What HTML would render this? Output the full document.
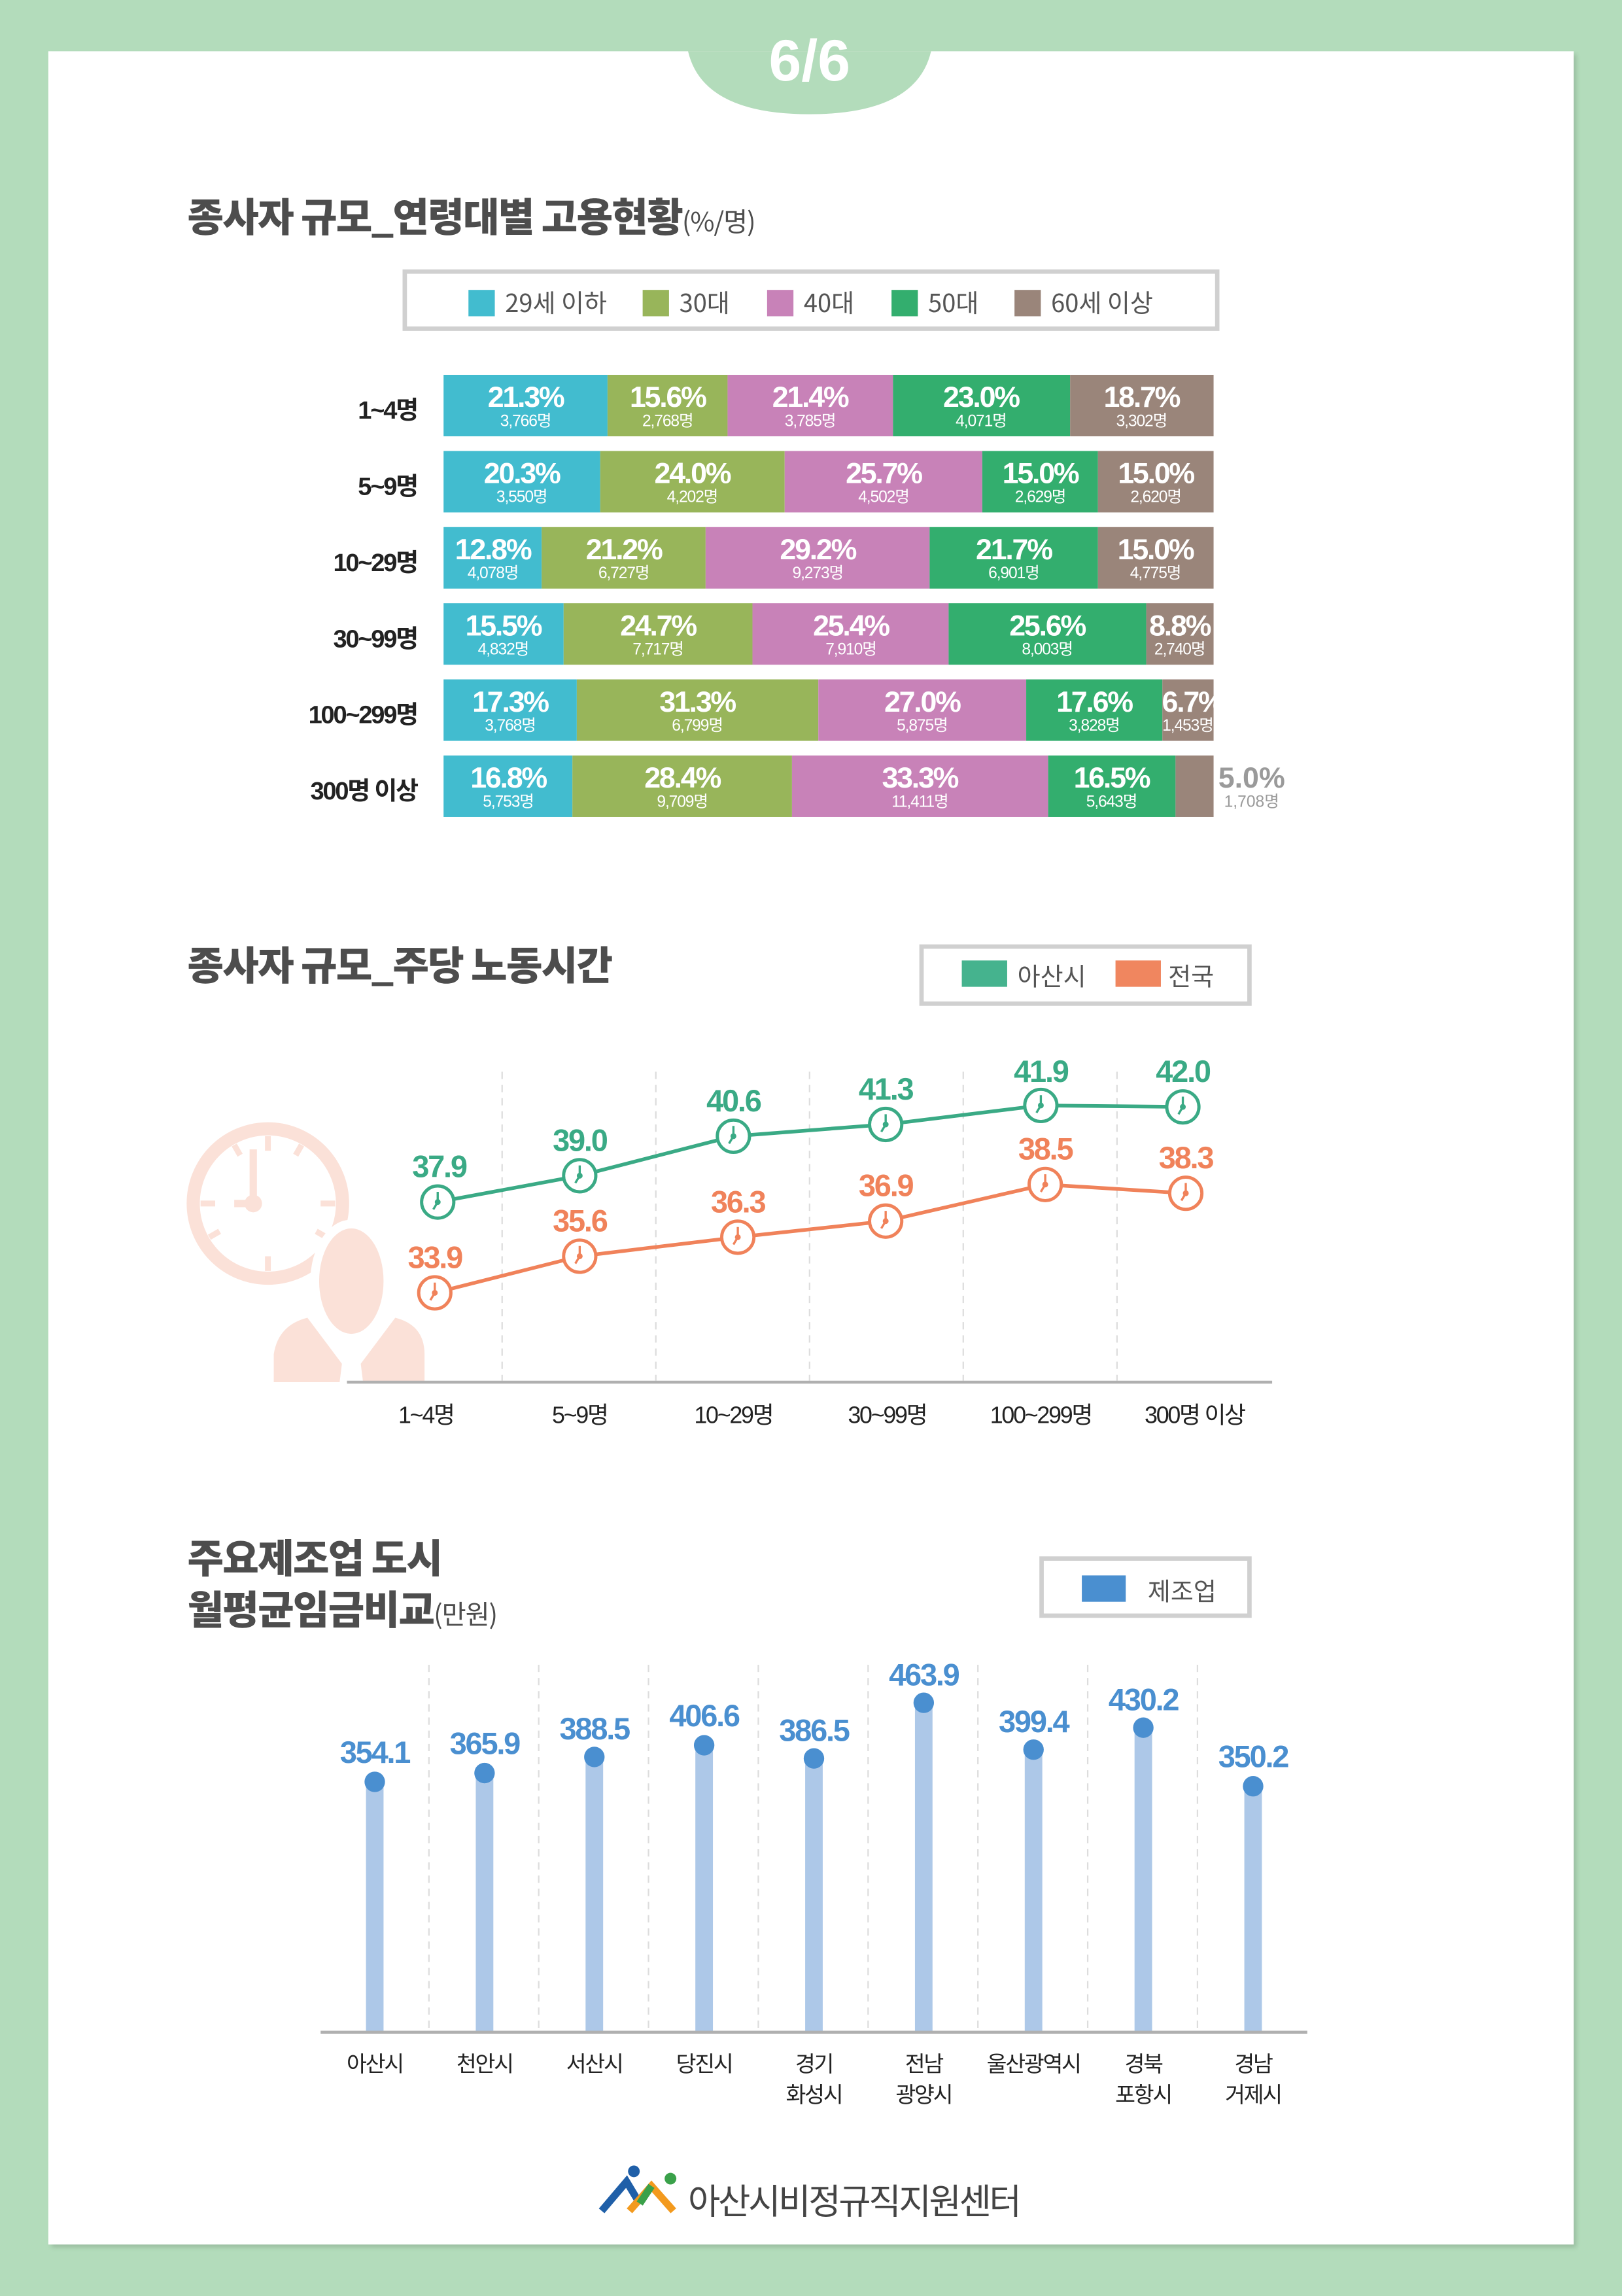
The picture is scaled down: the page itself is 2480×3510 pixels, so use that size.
<!DOCTYPE html>
<html><head><meta charset="utf-8"><style>
*{margin:0;padding:0;box-sizing:border-box}
html,body{width:2480px;height:3510px;overflow:hidden;background:#b3dcbb}
#p{position:absolute;left:0;top:0;width:1108px;height:1568.2px;transform:scale(2.2383);transform-origin:0 0;font-family:"Liberation Sans","Noto Sans CJK KR",sans-serif}
.a{position:absolute}
.t{font-family:"Noto Sans CJK KR",sans-serif;font-weight:900;color:#4d4d4d;font-size:27px;letter-spacing:-0.8px;white-space:nowrap}
.rl{position:absolute;width:150px;left:135px;text-align:right;font-family:"Liberation Sans Narrow","Liberation Sans","Noto Sans CJK KR",sans-serif;font-weight:bold;font-size:17px;color:#222;letter-spacing:-1px}
.bar{position:absolute;left:303px;width:526px;height:42px;display:flex}
.bar div{height:42px;color:#fff;text-align:center;overflow:visible;white-space:nowrap;font-family:"Liberation Sans Narrow","Liberation Sans","Noto Sans CJK KR",sans-serif}
.bar b{display:block;font-size:20px;line-height:22px;padding-top:5px;letter-spacing:-1px}
.bar i{display:block;font-style:normal;font-size:11px;line-height:11px;letter-spacing:-0.5px}
.c1{background:#42bccf}.c2{background:#98b55a}.c3{background:#c882b8}.c4{background:#33ae6e}.c5{background:#9a857a}
.leg{position:absolute;border:3px solid #d0d0d0;background:#fff}
</style></head><body><div id="p">
<div class="a" style="left:33px;top:35px;width:1042px;height:1498px;background:#fff;box-shadow:2px 2px 3px rgba(0,0,0,.15)"></div>
<svg class="a" style="left:0;top:0" width="1108" height="1568">
<path d="M470 35 Q480 78 553 78 Q626 78 636 35 Z" fill="#b3dcbb"/>
<text x="553" y="55" text-anchor="middle" font-family="Liberation Sans Narrow,Liberation Sans,sans-serif" font-weight="bold" font-size="40" fill="#fff">6/6</text>
</svg>
<div class="a t" style="left:128px;top:127px">종사자 규모_연령대별 고용현황<span style="font-size:18px;font-weight:400;letter-spacing:-0.5px">(%/명)</span></div>
<div class="leg" style="left:275px;top:184px;width:558px;height:42px"></div>
<div class="a" style="left:320px;top:196px;font-size:17px;color:#555;font-family:'Noto Sans CJK KR',sans-serif;white-space:nowrap;line-height:20px">
<span style="position:absolute;left:0;top:2px;width:18px;height:18px" class="c1"></span><span style="position:absolute;left:25px">29세 이하</span>
<span style="position:absolute;left:119px;top:2px;width:18px;height:18px" class="c2"></span><span style="position:absolute;left:144px">30대</span>
<span style="position:absolute;left:204px;top:2px;width:18px;height:18px" class="c3"></span><span style="position:absolute;left:229px">40대</span>
<span style="position:absolute;left:289px;top:2px;width:18px;height:18px" class="c4"></span><span style="position:absolute;left:314px">50대</span>
<span style="position:absolute;left:373px;top:2px;width:18px;height:18px" class="c5"></span><span style="position:absolute;left:398px">60세 이상</span>
</div>

<div class="rl" style="top:266px">1~4명</div>
<div class="bar" style="top:256px"><div class="c1" style="width:21.3%"><b>21.3%</b><i>3,766명</i></div><div class="c2" style="width:15.6%"><b>15.6%</b><i>2,768명</i></div><div class="c3" style="width:21.4%"><b>21.4%</b><i>3,785명</i></div><div class="c4" style="width:23%"><b>23.0%</b><i>4,071명</i></div><div class="c5" style="width:18.7%"><b>18.7%</b><i>3,302명</i></div></div>
<div class="rl" style="top:318px">5~9명</div>
<div class="bar" style="top:308px"><div class="c1" style="width:20.3%"><b>20.3%</b><i>3,550명</i></div><div class="c2" style="width:24%"><b>24.0%</b><i>4,202명</i></div><div class="c3" style="width:25.7%"><b>25.7%</b><i>4,502명</i></div><div class="c4" style="width:15%"><b>15.0%</b><i>2,629명</i></div><div class="c5" style="width:15%"><b>15.0%</b><i>2,620명</i></div></div>
<div class="rl" style="top:370px">10~29명</div>
<div class="bar" style="top:360px"><div class="c1" style="width:12.8%"><b>12.8%</b><i>4,078명</i></div><div class="c2" style="width:21.2%"><b>21.2%</b><i>6,727명</i></div><div class="c3" style="width:29.2%"><b>29.2%</b><i>9,273명</i></div><div class="c4" style="width:21.7%"><b>21.7%</b><i>6,901명</i></div><div class="c5" style="width:15.1%"><b>15.0%</b><i>4,775명</i></div></div>
<div class="rl" style="top:422px">30~99명</div>
<div class="bar" style="top:412px"><div class="c1" style="width:15.5%"><b>15.5%</b><i>4,832명</i></div><div class="c2" style="width:24.7%"><b>24.7%</b><i>7,717명</i></div><div class="c3" style="width:25.4%"><b>25.4%</b><i>7,910명</i></div><div class="c4" style="width:25.6%"><b>25.6%</b><i>8,003명</i></div><div class="c5" style="width:8.8%"><b>8.8%</b><i>2,740명</i></div></div>
<div class="rl" style="top:474px">100~299명</div>
<div class="bar" style="top:464px"><div class="c1" style="width:17.3%"><b>17.3%</b><i>3,768명</i></div><div class="c2" style="width:31.3%"><b>31.3%</b><i>6,799명</i></div><div class="c3" style="width:27.1%"><b>27.0%</b><i>5,875명</i></div><div class="c4" style="width:17.6%"><b>17.6%</b><i>3,828명</i></div><div class="c5" style="width:6.7%"><b>6.7%</b><i>1,453명</i></div></div>
<div class="rl" style="top:526px">300명 이상</div>
<div class="bar" style="top:516px"><div class="c1" style="width:16.8%"><b>16.8%</b><i>5,753명</i></div><div class="c2" style="width:28.4%"><b>28.4%</b><i>9,709명</i></div><div class="c3" style="width:33.3%"><b>33.3%</b><i>11,411명</i></div><div class="c4" style="width:16.5%"><b>16.5%</b><i>5,643명</i></div><div class="c5" style="width:5%"></div></div>
<div class="a" style="left:832px;top:516px;width:46px;text-align:center;color:#9a9a9a;font-family:'Liberation Sans Narrow','Liberation Sans',sans-serif"><b style="display:block;font-size:20px;line-height:22px;padding-top:5px">5.0%</b><span style="font-size:11px;display:block;line-height:11px">1,708명</span></div>

<div class="a t" style="left:128px;top:638px">종사자 규모_주당 노동시간</div>
<div class="leg" style="left:628px;top:645px;width:227px;height:42px"></div>
<div class="a" style="left:657px;top:656px;width:31px;height:18px;background:#45b38e"></div>
<div class="a" style="left:695px;top:653px;font-size:17px;color:#555;font-family:'Noto Sans CJK KR',sans-serif">아산시</div>
<div class="a" style="left:762px;top:656px;width:31px;height:18px;background:#f0865f"></div>
<div class="a" style="left:798px;top:653px;font-size:17px;color:#555;font-family:'Noto Sans CJK KR',sans-serif">전국</div>

<div class="a t" style="left:128px;top:1045px;line-height:35px">주요제조업 도시<br>월평균임금비교<span style="font-size:18px;font-weight:400;letter-spacing:-0.5px">(만원)</span></div>
<div class="leg" style="left:710px;top:1063px;width:145px;height:42px"></div>
<div class="a" style="left:739px;top:1076px;width:30px;height:18px;background:#4a8fd0"></div>
<div class="a" style="left:784px;top:1073px;font-size:17px;color:#555;font-family:'Noto Sans CJK KR',sans-serif">제조업</div>

<svg class="a" style="left:0;top:0" width="1108" height="1568" font-family="Liberation Sans Narrow,Liberation Sans,Noto Sans CJK KR,sans-serif">
<defs>
<g id="ck"><circle r="11" fill="#fff" stroke-width="2.2"/><path d="M0 0V-7M0 0L-3 5" stroke-width="1.5" fill="none"/><circle r="1.5"/></g>
</defs>
<!-- bg icon -->
<circle cx="183" cy="822" r="51" fill="none" stroke="#fbe1d8" stroke-width="9"/>
<g stroke="#fbe1d8" stroke-width="4" fill="none"><path d="M183 776V786M183 858V868M137 822H147M219 822H229M160 782L164 789M206 782L202 789M143 845L150 841M223 845L216 841"/></g>
<path d="M173 785V822H160" stroke="#fbe1d8" stroke-width="5" fill="none"/>
<circle cx="173" cy="822" r="6" fill="#fbe1d8"/>
<ellipse cx="240" cy="875" rx="28" ry="42" fill="#fff"/>
<ellipse cx="240" cy="875" rx="22" ry="36" fill="#fbe1d8"/>
<path d="M187 944V925Q190 905 210 900L240 940L270 900Q290 905 290 925V944Z" fill="#fbe1d8"/>
<path d="M235 920L245 920L248 944L232 944Z" fill="#fff"/>
<g stroke="#ddd" stroke-width="1" stroke-dasharray="5 4"><path d="M343 732V943M448 732V943M553 732V943M658 732V943M763 732V943"/></g>
<path d="M237 944H869" stroke="#b0b0b0" stroke-width="2"/>
<g font-size="16" fill="#222" text-anchor="middle" letter-spacing="-1"><text x="291" y="972">1~4명</text><text x="396" y="972">5~9명</text><text x="501" y="972">10~29명</text><text x="606" y="972">30~99명</text><text x="711" y="972">100~299명</text><text x="816" y="972">300명 이상</text></g>
<polyline points="299,821 396,803 501,776 605,768 711,755 808,756" fill="none" stroke="#3aaa85" stroke-width="2.5"/>
<polyline points="297,883 396,858 504,845 605,834 714,809 810,815" fill="none" stroke="#f0825a" stroke-width="2.5"/>
<g stroke="#3aaa85" fill="#3aaa85"><use href="#ck" x="299" y="821"/><use href="#ck" x="396" y="803"/><use href="#ck" x="501" y="776"/><use href="#ck" x="605" y="768"/><use href="#ck" x="711" y="755"/><use href="#ck" x="808" y="756"/></g>
<g stroke="#f0825a" fill="#f0825a"><use href="#ck" x="297" y="883"/><use href="#ck" x="396" y="858"/><use href="#ck" x="504" y="845"/><use href="#ck" x="605" y="834"/><use href="#ck" x="714" y="809"/><use href="#ck" x="810" y="815"/></g>
<g font-size="21" font-weight="bold" fill="#3aaa85" text-anchor="middle" letter-spacing="-1"><text x="300" y="804">37.9</text><text x="396" y="786">39.0</text><text x="501" y="759">40.6</text><text x="605" y="751">41.3</text><text x="711" y="739">41.9</text><text x="808" y="739">42.0</text></g>
<g font-size="21" font-weight="bold" fill="#f0825a" text-anchor="middle" letter-spacing="-1"><text x="297" y="866">33.9</text><text x="396" y="841">35.6</text><text x="504" y="828">36.3</text><text x="605" y="817">36.9</text><text x="714" y="792">38.5</text><text x="810" y="798">38.3</text></g>

<g stroke="#ddd" stroke-width="1" stroke-dasharray="5 4"><path d="M293 1137V1387M368 1137V1387M443 1137V1387M518 1137V1387M593 1137V1387M668 1137V1387M743 1137V1387M818 1137V1387"/></g>
<g stroke="#adc8e8" stroke-width="12"><path d="M256 1217V1388M331 1211V1388M406 1200V1388M481 1192V1388M556 1201V1388M631 1163V1388M706 1195V1388M781 1180V1388M856 1220V1388"/></g>
<g fill="#4a8fd0"><circle cx="256" cy="1217" r="7"/><circle cx="331" cy="1211" r="7"/><circle cx="406" cy="1200" r="7"/><circle cx="481" cy="1192" r="7"/><circle cx="556" cy="1201" r="7"/><circle cx="631" cy="1163" r="7"/><circle cx="706" cy="1195" r="7"/><circle cx="781" cy="1180" r="7"/><circle cx="856" cy="1220" r="7"/></g>
<path d="M219 1388H893" stroke="#b0b0b0" stroke-width="2"/>
<g font-size="21" font-weight="bold" fill="#4a8fd0" text-anchor="middle" letter-spacing="-1"><text x="256" y="1204">354.1</text><text x="331" y="1198">365.9</text><text x="406" y="1188">388.5</text><text x="481" y="1179">406.6</text><text x="556" y="1189">386.5</text><text x="631" y="1151">463.9</text><text x="706" y="1183">399.4</text><text x="781" y="1168">430.2</text><text x="856" y="1207">350.2</text></g>
<g font-size="15" fill="#222" text-anchor="middle" font-family="Noto Sans CJK KR,sans-serif" letter-spacing="-1"><text x="256" y="1415">아산시</text><text x="331" y="1415">천안시</text><text x="406" y="1415">서산시</text><text x="481" y="1415">당진시</text><text x="556" y="1415">경기</text><text x="556" y="1436">화성시</text><text x="631" y="1415">전남</text><text x="631" y="1436">광양시</text><text x="706" y="1415">울산광역시</text><text x="781" y="1415">경북</text><text x="781" y="1436">포항시</text><text x="856" y="1415">경남</text><text x="856" y="1436">거제시</text></g>
<!-- logo -->
<circle cx="433" cy="1483" r="4" fill="#1f5fa8"/><circle cx="458" cy="1488" r="4" fill="#3aa14a"/>
<path d="M411 1510L428 1490L437 1505" stroke="#1f5fa8" stroke-width="5" fill="none"/>
<path d="M430 1510L445 1493L460 1510" stroke="#f39a1e" stroke-width="5" fill="none"/>
<path d="M437 1505L445 1493" stroke="#3aa14a" stroke-width="5"/>
<text x="470" y="1512" font-size="24" fill="#444" font-family="Noto Sans CJK KR,sans-serif" letter-spacing="-1.5">아산시비정규직지원센터</text>
</svg>
</div></body></html>
